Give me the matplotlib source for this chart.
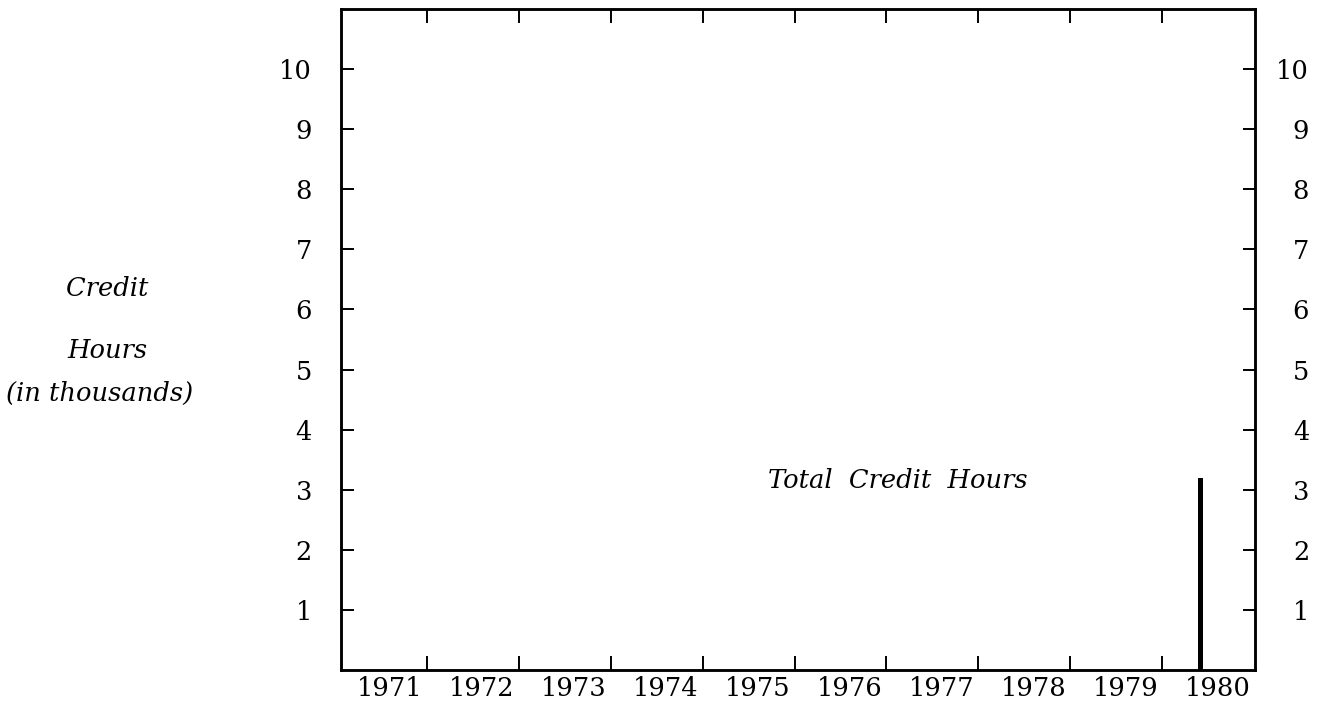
import matplotlib.pyplot as plt
from matplotlib.ticker import FixedLocator

# Data: total credit hours (thousands) by year
years = [1971, 1972, 1973, 1974, 1975, 1976, 1977, 1978, 1979, 1980]
bar_year = [1979.82]
credit_hours = [3.2]
y_ticks = [1, 2, 3, 4, 5, 6, 7, 8, 9, 10]
year_marks = [y + 0.4 for y in years[:-1]]

plt.rcParams['font.family'] = ['DejaVu Serif']

fig = plt.figure(figsize=(13.24, 7.06), dpi=100)
ax = fig.add_axes([0.2576, 0.051, 0.6903, 0.9363])

ax.bar(bar_year, credit_hours, width=0.05, color='black', align='center')

ax.set_xlim(1970.467, 1980.41)
ax.set_ylim(0, 11)

for s in ax.spines.values():
    s.set_linewidth(1.8)

# year labels sit on the years, tick marks between them
ax.set_xticks(years)
ax.set_xticklabels([str(y) for y in years], fontsize=18.5)
ax.tick_params(axis='x', which='major', length=0, pad=4)
ax.xaxis.set_minor_locator(FixedLocator(year_marks))
ax.tick_params(axis='x', which='minor', direction='in', length=10, width=1.4,
               top=True, bottom=True)

ax.set_yticks(y_ticks)
ax.set_yticklabels([str(v) for v in y_ticks], fontsize=18.5)
ax.tick_params(axis='y', direction='in', length=9, width=1.4, pad=21,
               left=True, right=False)

# mirrored value scale on the right
ax2 = ax.twinx()
ax2.set_ylim(ax.get_ylim())
ax2.set_yticks(y_ticks)
ax2.set_yticklabels([str(v) for v in y_ticks], fontsize=18.5)
ax2.tick_params(axis='y', direction='in', length=9, width=1.4, pad=39)
for lab in ax2.get_yticklabels():
    lab.set_horizontalalignment('right')
for s in ax2.spines.values():
    s.set_linewidth(1.8)

ax.text(1976.52, 3.15, 'Total  Credit  Hours', style='italic', fontsize=18.5,
        ha='center', va='center')

fig.text(107 / 1324, 1 - 288 / 706, 'Credit', style='italic', fontsize=18.5,
         ha='center', va='center')
fig.text(107 / 1324, 1 - 350 / 706, 'Hours', style='italic', fontsize=18.5,
         ha='center', va='center')
fig.text(100 / 1324, 1 - 393 / 706, '(in thousands)', style='italic',
         fontsize=18.5, ha='center', va='center')

fig.savefig('out.png', dpi=100)
